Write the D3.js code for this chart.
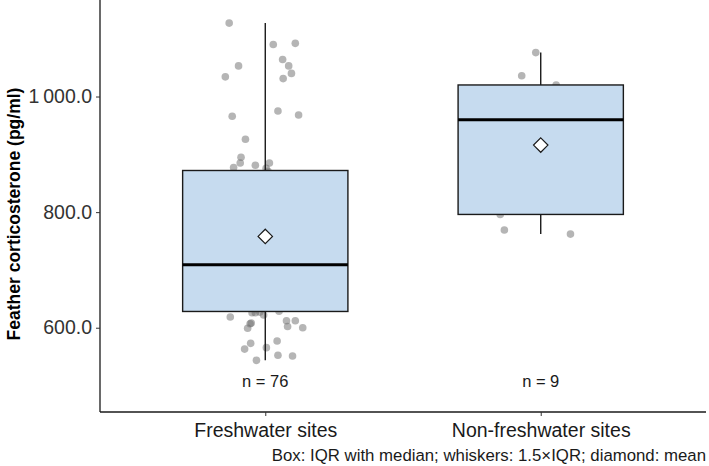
<!DOCTYPE html>
<html>
<head>
<meta charset="utf-8">
<script src="https://cdn.jsdelivr.net/npm/d3@7"></script>
<style>
  html, body { margin: 0; padding: 0; background: #fff; }
  svg { display: block; font-family: "Liberation Sans", Arial, sans-serif; }
</style>
</head>
<body>
<svg id="chart" width="709" height="466"></svg>
<script>
// ---------------- data ----------------
const categories = ["Freshwater sites", "Non-freshwater sites"];
const groupCounts = [76, 9];

// Feather corticosterone (pg/ml), individual samples
const freshwaterValues = [
  1127, 1053, 1034, 1090, 1092, 1064, 1053, 1040, 1031, 966, 975, 968, 926, 895, 885, 877, 881, 885, 876,
  618.5, 626, 626, 622, 607, 608, 599, 612, 612, 602, 600, 573, 563, 565.5, 577, 552.4, 551, 543.6,
  627, 628.5, 634, 640, 645, 650, 655, 660, 665, 670, 675, 680, 685, 690, 694, 698, 701, 704, 706, 708,
  710, 712, 718, 726, 734, 741, 748, 756, 764, 772, 781, 791, 801, 815, 827.8, 838, 850, 861, 870.7
];
// horizontal jitter of each sample, in category units
const freshwaterJitter = [
  -0.131, -0.097, -0.145, 0.029, 0.109, 0.063, 0.085, 0.095, 0.065, -0.120, 0.046, 0.121, -0.072, -0.088, -0.091, -0.115, -0.036, 0.015, 0.003,
  -0.127, -0.048, -0.036, -0.006, -0.055, -0.051, -0.064, 0.077, 0.109, 0.081, 0.136, -0.053, -0.075, 0.004, 0.043, 0.046, 0.099, -0.032,
  -0.02, 0.05, -0.10, 0.12, 0.01, -0.06, 0.09, -0.13, 0.03, 0.07, -0.04, 0.11, -0.08, 0.02, 0.13, -0.11, 0.06, -0.01, 0.08, -0.05,
  0.04, -0.09, 0.10, -0.03, 0.12, -0.12, 0.00, 0.05, -0.07, 0.09, -0.02, 0.14, -0.14, 0.06, -0.06, 0.03, -0.10, 0.11, 0.01
];
const nonFreshwaterValues = [1076, 1036, 1020, 796, 769, 762, 820, 960, 1005];
const nonFreshwaterJitter = [-0.018, -0.069, 0.056, -0.147, -0.132, 0.108, 0.05, -0.03, 0.08];

const yTicks = [600, 800, 1000];
const yTickLabels = ["600.0", "800.0", "1\u2009000.0"];
const yTitle = "Feather corticosterone (pg/ml)";
const caption = "Box: IQR with median; whiskers: 1.5\u00d7IQR; diamond: mean";

// ---------------- layout ----------------
const svg = d3.select("#chart");
const plot = { left: 100, right: 706, top: 0, bottom: 412 };

const x = d3.scaleLinear().domain([0.4, 2.6]).range([plot.left, plot.right]);
const y = d3.scaleLinear().domain([454.2, 1167]).range([plot.bottom, plot.top]);

const groups = [
  { name: categories[0], values: freshwaterValues, jitter: freshwaterJitter, n: groupCounts[0] },
  { name: categories[1], values: nonFreshwaterValues, jitter: nonFreshwaterJitter, n: groupCounts[1] }
];

function stats(vals) {
  const s = vals.slice().sort(d3.ascending);
  const q1 = d3.quantile(s, 0.25), med = d3.quantile(s, 0.5), q3 = d3.quantile(s, 0.75);
  const iqr = q3 - q1;
  const lo = d3.min(s.filter(v => v >= q1 - 1.5 * iqr));
  const hi = d3.max(s.filter(v => v <= q3 + 1.5 * iqr));
  return { q1, med, q3, lo, hi, mean: d3.mean(s) };
}

const boxW = 0.6;
const g = svg.append("g");

groups.forEach((grp, i) => {
  const cx = i + 1;
  const st = stats(grp.values);
  // jittered points (drawn beneath the box)
  g.append("g").selectAll("circle")
    .data(grp.values.map((v, k) => ({ v, j: grp.jitter[k] || 0 })))
    .join("circle")
    .attr("cx", d => x(cx + d.j))
    .attr("cy", d => y(d.v))
    .attr("r", 3.8)
    .attr("fill", "#6b6b6b")
    .attr("fill-opacity", 0.5);

  // whiskers
  g.append("line")
    .attr("x1", x(cx)).attr("x2", x(cx))
    .attr("y1", y(st.hi)).attr("y2", y(st.q3))
    .attr("stroke", "#1a1a1a").attr("stroke-width", 1.4);
  g.append("line")
    .attr("x1", x(cx)).attr("x2", x(cx))
    .attr("y1", y(st.q1)).attr("y2", y(st.lo))
    .attr("stroke", "#1a1a1a").attr("stroke-width", 1.4);

  // box
  g.append("rect")
    .attr("x", x(cx - boxW / 2))
    .attr("y", y(st.q3))
    .attr("width", x(cx + boxW / 2) - x(cx - boxW / 2))
    .attr("height", y(st.q1) - y(st.q3))
    .attr("fill", "#c6dbef")
    .attr("stroke", "#1a1a1a")
    .attr("stroke-width", 1.4);

  // median
  g.append("line")
    .attr("x1", x(cx - boxW / 2)).attr("x2", x(cx + boxW / 2))
    .attr("y1", y(st.med)).attr("y2", y(st.med))
    .attr("stroke", "#000").attr("stroke-width", 3);

  // mean diamond
  const mx = x(cx), my = y(st.mean), r = 7.2;
  g.append("path")
    .attr("d", `M${mx},${my - r}L${mx + r},${my}L${mx},${my + r}L${mx - r},${my}Z`)
    .attr("fill", "#fff")
    .attr("stroke", "#1a1a1a")
    .attr("stroke-width", 1.2);

  // n label
  g.append("text")
    .attr("x", x(cx))
    .attr("y", 387)
    .attr("text-anchor", "middle")
    .attr("font-size", 16.5)
    .attr("fill", "#1a1a1a")
    .text(`n = ${grp.n}`);
});

// axes
const yAxis = d3.axisLeft(y).tickValues(yTicks).tickFormat((d, i) => yTickLabels[i]).tickSize(4).tickPadding(4);
const ya = svg.append("g").attr("transform", `translate(${plot.left},0)`).call(yAxis);
ya.select(".domain").attr("d", `M0,${plot.top}V${plot.bottom}`).attr("stroke", "#1a1a1a").attr("stroke-width", 1.3);
ya.selectAll(".tick line").attr("stroke", "#333");
ya.selectAll(".tick text").attr("font-size", 19.5).attr("fill", "#333").attr("font-family", "Liberation Sans, Arial, sans-serif");

const xAxis = d3.axisBottom(x).tickValues([1, 2]).tickFormat((d, i) => categories[i]).tickSize(4).tickPadding(7);
const xa = svg.append("g").attr("transform", `translate(0,${plot.bottom})`).call(xAxis);
xa.select(".domain").attr("d", `M${plot.left},0H${plot.right}`).attr("stroke", "#1a1a1a").attr("stroke-width", 1.3);
xa.selectAll(".tick line").attr("stroke", "#333");
xa.selectAll(".tick text").attr("font-size", 19.5).attr("fill", "#1a1a1a").attr("font-family", "Liberation Sans, Arial, sans-serif");

// y title
svg.append("text")
  .attr("transform", `translate(20,${(plot.top + plot.bottom) / 2 + 8}) rotate(-90)`)
  .attr("text-anchor", "middle")
  .attr("font-size", 17.5)
  .attr("font-weight", "bold")
  .attr("fill", "#000")
  .text(yTitle);

// caption
svg.append("text")
  .attr("x", 706)
  .attr("y", 461)
  .attr("text-anchor", "end")
  .attr("font-size", 16.8)
  .attr("fill", "#1a1a1a")
  .text(caption);
</script>
</body>
</html>
